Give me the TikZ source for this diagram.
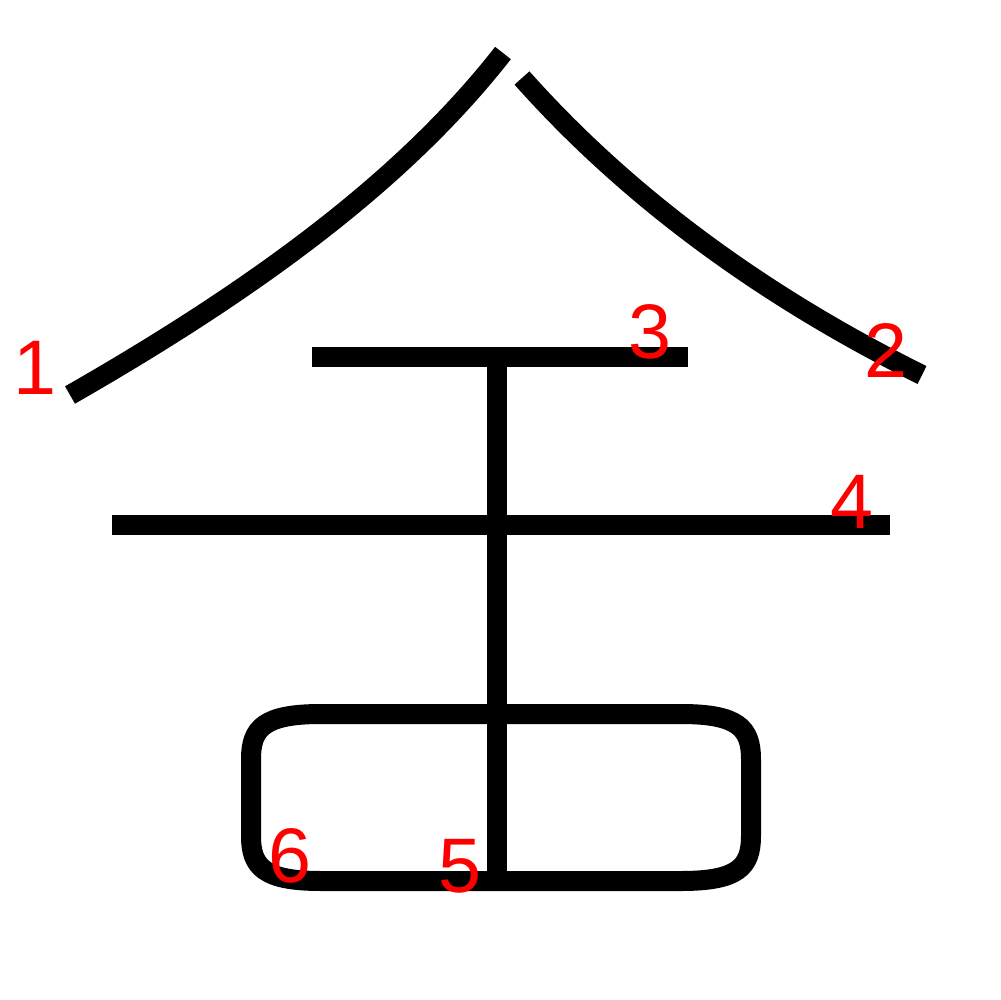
\documentclass[tikz,border=0pt]{standalone}
\usepackage{fontspec}
\setmainfont{Liberation Sans}
\usepackage{tikz}

\begin{document}
\begin{tikzpicture}[x=0.1mm,y=-0.1mm,
  kstroke/.style={line width=2mm,black},
  num/.style={red,font=\fontsize{22}{22}\selectfont,inner sep=0pt}]
\useasboundingbox (0,0) rectangle (1000,1000);

% roof
\draw[kstroke] (503,53) .. controls (410,172) and (271,280) .. (70,395);
\draw[kstroke] (522,78) .. controls (627,196) and (761,295) .. (922,375);

% two bars and the stem
\draw[kstroke] (312,357) -- (688,357);
\draw[kstroke] (112,525) -- (890,525);
\draw[kstroke] (497,357) -- (497,876);

% mouth
\draw[kstroke] (321,714) -- (681,714) .. controls (738,714) and (751,728) .. (751,759)
  -- (751,836) .. controls (751,867) and (738,881) .. (681,881)
  -- (321,881) .. controls (264,881) and (251,867) .. (251,836)
  -- (251,759) .. controls (251,728) and (264,714) .. (321,714) -- cycle;

\node[num] (n1) at (35,368) {1};
\node[num] (n2) at (886,350) {2};
\node[num] (n3) at (650,332) {3};
\node[num] (n4) at (852,502) {4};
\node[num] (n5) at (460,866) {5};
\node[num] (n6) at (290,856) {6};
\end{tikzpicture}
\end{document}
